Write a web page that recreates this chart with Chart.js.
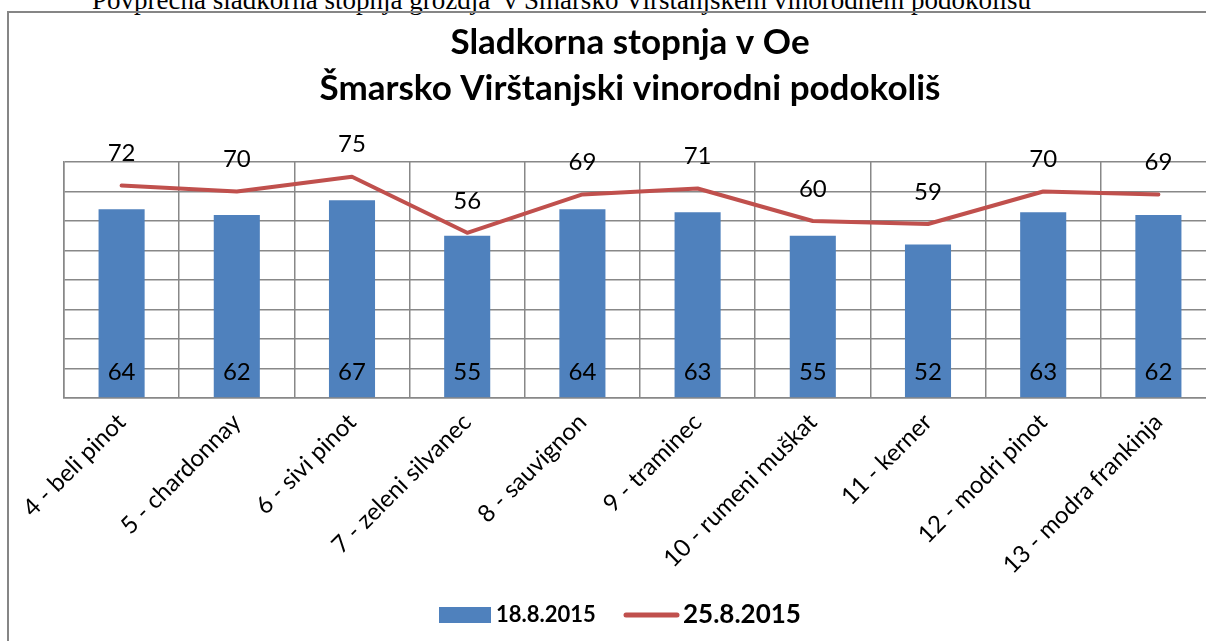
<!DOCTYPE html>
<html><head><meta charset="utf-8">
<script src="https://cdn.jsdelivr.net/npm/chart.js@4/dist/chart.umd.min.js"></script>
<style>
html,body{margin:0;padding:0;overflow:hidden;background:#fff;width:1206px;height:641px;}
#top{position:absolute;left:92px;top:-13px;font-family:"Liberation Serif";font-size:27px;line-height:27px;white-space:pre;color:#000;}
#box{position:absolute;left:7px;top:11px;width:1300px;height:700px;border:2px solid #868686;box-sizing:border-box;}
#wrap{position:absolute;left:0;top:0;width:1230px;height:641px;}
</style></head><body>
<div id="top">Povprečna sladkorna stopnja grozdja  v Šmarsko Virštanjskem vinorodnem podokolišu</div>
<div id="box"></div>
<div id="wrap"><canvas id="c" width="1230" height="641"></canvas></div>
<script>
const categories = ['4 - beli pinot','5 - chardonnay','6 - sivi pinot','7 - zeleni silvanec','8 - sauvignon','9 - traminec','10 - rumeni muškat','11 - kerner','12 - modri pinot','13 - modra frankinja'];
const series1Label = '18.8.2015';
const series1 = [64,62,67,55,64,63,55,52,63,62];
const series2Label = '25.8.2015';
const series2 = [72,70,75,56,69,71,60,59,70,69];
const yMin = 0, yMax = 80, yStep = 10;
const titleLines = ['Sladkorna stopnja v Oe','Šmarsko Virštanjski vinorodni podokoliš'];

const GRID = '#888888';

const valueLabels = {
  id: 'valueLabels',
  afterDatasetsDraw(chart) {
    const ctx = chart.ctx;
    ctx.save();
    ctx.font = '24px Lato';
    ctx.fillStyle = '#000';
    ctx.textAlign = 'center';
    ctx.textBaseline = 'middle';
    chart.data.datasets.forEach((ds, i) => {
      const meta = chart.getDatasetMeta(i);
      meta.data.forEach((el, j) => {
        const v = ds.data[j];
        if (ds.type === 'bar') ctx.fillText(String(v), el.x, el.base - 25);
        else ctx.fillText(String(v), el.x, el.y - 32);
      });
    });
    ctx.restore();
  }
};

const customLegend = {
  id: 'customLegend',
  afterDraw(chart) {
    const ctx = chart.ctx;
    const ds = chart.data.datasets;
    const y = 615;
    ctx.save();
    ctx.textBaseline = 'middle';
    ctx.textAlign = 'left';
    ctx.fillStyle = ds[0].backgroundColor;
    ctx.fillRect(439, 607, 52, 16);
    ctx.fillStyle = '#000';
    ctx.font = 'bold 22px Lato';
    ctx.fillText(ds[0].label, 496, y);
    ctx.strokeStyle = ds[1].borderColor;
    ctx.lineWidth = 5;
    ctx.lineCap = 'round';
    ctx.beginPath(); ctx.moveTo(626, y); ctx.lineTo(677, y); ctx.stroke();
    ctx.font = 'bold 26px Lato';
    ctx.fillText(ds[1].label, 683, y);
    ctx.restore();
  }
};

new Chart(document.getElementById('c'), {
  data: {
    labels: categories,
    datasets: [
      { type: 'bar', label: series1Label, data: series1, backgroundColor: '#4F81BD', barPercentage: 0.4, categoryPercentage: 1, order: 1 },
      { type: 'line', label: series2Label, data: series2, borderColor: '#C0504D', backgroundColor: '#C0504D', borderWidth: 4, pointRadius: 0, tension: 0, order: 0, borderCapStyle: 'round', borderJoinStyle: 'round' }
    ]
  },
  options: {
    responsive: false,
    animation: false,
    layout: { padding: { left: 44, right: 14, top: 0, bottom: 0 } },
    plugins: {
      legend: { display: false },
      tooltip: { enabled: false },
      title: {
        display: true, text: titleLines, color: '#000',
        font: { family: 'Lato', weight: 'bold', size: 35, lineHeight: '46px' },
        padding: { top: 20, bottom: 50 }
      }
    },
    scales: {
      x: {
        offset: true,
        grid: { offset: true, color: GRID, lineWidth: 1.5, drawTicks: false },
        border: { color: GRID, width: 1.5 },
        ticks: { autoSkip: false, minRotation: 45, maxRotation: 45, padding: 10, color: '#000', font: { family: 'Lato', size: 24 } },
        afterFit(s) { s.height = 243; }
      },
      y: {
        min: yMin, max: yMax,
        ticks: { display: false, stepSize: yStep },
        grid: { color: GRID, lineWidth: 1.5, drawTicks: false },
        border: { color: GRID, width: 1.5 },
        afterFit(s) { s.width = 20; }
      }
    }
  },
  plugins: [valueLabels, customLegend]
});
</script>
</body></html>
